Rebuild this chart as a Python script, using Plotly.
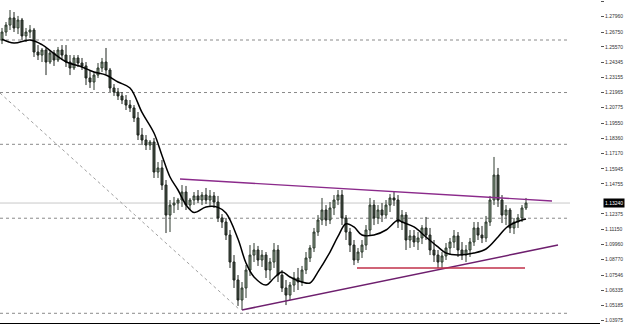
import plotly.graph_objects as go

bars = list(range(132))
opens = [1.2612,1.2675,1.2730,1.2786,1.2707,1.2770,1.2644,1.2675,1.2691,1.2517,
         1.2493,1.2533,1.2438,1.2509,1.2454,1.2533,1.2493,1.2438,1.2391,1.2470,
         1.2430,1.2407,1.2312,1.2280,1.2335,1.2391,1.2438,1.2375,1.2233,1.2201,
         1.2170,1.2138,1.2098,1.2075,1.1996,1.1861,1.1822,1.1782,1.1806,1.1569,
         1.1601,1.1466,1.1229,1.1308,1.1324,1.1348,1.1411,1.1308,1.1348,1.1380,
         1.1348,1.1387,1.1348,1.1380,1.1332,1.1206,1.1174,1.1071,1.0858,1.0716,
         1.0558,1.0653,1.0795,1.0913,1.0953,1.0874,1.0913,1.0795,1.0858,1.0953,
         1.0755,1.0653,1.0597,1.0676,1.0732,1.0700,1.0795,1.0890,1.0969,1.1095,
         1.1190,1.1269,1.1190,1.1285,1.1348,1.1387,1.1206,1.1095,1.0992,1.0874,
         1.0937,1.0992,1.1111,1.1308,1.1206,1.1269,1.1229,1.1308,1.1364,1.1348,
         1.1174,1.1229,1.1032,1.1064,1.1016,1.1048,1.1127,1.1071,1.0953,1.0913,
         1.0858,1.0906,1.0969,1.1016,1.1064,1.0953,1.0913,1.0953,1.1016,1.1127,
         1.1071,1.1048,1.1174,1.1348,1.1545,1.1348,1.1229,1.1269,1.1127,1.1174,
         1.1206,1.1285]
highs = [1.2707,1.2754,1.2849,1.2833,1.2802,1.2786,1.2707,1.2730,1.2707,1.2572,
         1.2549,1.2549,1.2533,1.2533,1.2557,1.2572,1.2572,1.2493,1.2493,1.2493,
         1.2470,1.2438,1.2375,1.2359,1.2430,1.2470,1.2549,1.2391,1.2264,1.2233,
         1.2201,1.2177,1.2138,1.2098,1.2043,1.1917,1.1861,1.1822,1.1838,1.1648,
         1.1664,1.1506,1.1348,1.1372,1.1364,1.1466,1.1459,1.1364,1.1411,1.1427,
         1.1411,1.1443,1.1427,1.1411,1.1380,1.1237,1.1206,1.1111,1.0913,1.0755,
         1.0700,1.0834,1.0992,1.1008,1.0985,1.0953,1.0937,1.0890,1.1008,1.0992,
         1.0795,1.0716,1.0700,1.0779,1.0811,1.0827,1.0937,1.0992,1.1127,1.1229,
         1.1364,1.1308,1.1332,1.1387,1.1427,1.1427,1.1229,1.1127,1.1032,1.0969,
         1.1032,1.1150,1.1364,1.1348,1.1308,1.1324,1.1348,1.1395,1.1411,1.1387,
         1.1269,1.1253,1.1111,1.1111,1.1095,1.1150,1.1214,1.1127,1.1032,1.0953,
         1.0937,1.1008,1.1048,1.1111,1.1095,1.1016,1.0992,1.1048,1.1174,1.1174,
         1.1143,1.1222,1.1380,1.1688,1.1601,1.1387,1.1308,1.1285,1.1206,1.1237,
         1.1308,1.1364]
lows = [1.2580,1.2644,1.2691,1.2675,1.2659,1.2612,1.2596,1.2628,1.2478,1.2454,
        1.2438,1.2335,1.2422,1.2407,1.2438,1.2454,1.2399,1.2335,1.2375,1.2399,
        1.2375,1.2256,1.2233,1.2217,1.2312,1.2359,1.2343,1.2201,1.2170,1.2138,
        1.2106,1.2059,1.2043,1.1964,1.1822,1.1782,1.1743,1.1743,1.1522,1.1522,
        1.1427,1.1087,1.1095,1.1245,1.1269,1.1293,1.1269,1.1269,1.1308,1.1324,
        1.1308,1.1316,1.1301,1.1285,1.1174,1.1127,1.1032,1.0811,1.0653,1.0511,
        1.0479,1.0574,1.0748,1.0858,1.0827,1.0819,1.0732,1.0716,1.0811,1.0700,
        1.0621,1.0518,1.0558,1.0621,1.0637,1.0669,1.0763,1.0858,1.0937,1.1064,
        1.1150,1.1143,1.1158,1.1229,1.1308,1.1150,1.1032,1.0937,1.0834,1.0850,
        1.0890,1.0953,1.1071,1.1150,1.1158,1.1174,1.1206,1.1253,1.1301,1.1127,
        1.1111,1.0953,1.0969,1.0977,1.0953,1.1000,1.1032,1.0913,1.0858,1.0811,
        1.0811,1.0874,1.0913,1.0969,1.0898,1.0874,1.0858,1.0898,1.0985,1.1032,
        1.1008,1.1016,1.1143,1.1308,1.1293,1.1166,1.1150,1.1087,1.1079,1.1127,
        1.1174,1.1269]
closes = [1.2675,1.2730,1.2786,1.2707,1.2770,1.2644,1.2675,1.2691,1.2517,1.2493,
          1.2533,1.2438,1.2509,1.2454,1.2533,1.2493,1.2438,1.2391,1.2470,1.2430,
          1.2407,1.2312,1.2280,1.2335,1.2391,1.2438,1.2375,1.2233,1.2201,1.2170,
          1.2138,1.2098,1.2075,1.1996,1.1861,1.1822,1.1782,1.1806,1.1569,1.1601,
          1.1466,1.1229,1.1308,1.1324,1.1348,1.1411,1.1308,1.1348,1.1380,1.1348,
          1.1387,1.1348,1.1380,1.1332,1.1206,1.1174,1.1071,1.0858,1.0716,1.0558,
          1.0653,1.0795,1.0913,1.0953,1.0874,1.0913,1.0795,1.0858,1.0953,1.0755,
          1.0653,1.0597,1.0676,1.0732,1.0700,1.0795,1.0890,1.0969,1.1095,1.1190,
          1.1269,1.1190,1.1285,1.1348,1.1387,1.1206,1.1095,1.0992,1.0874,1.0937,
          1.0992,1.1111,1.1308,1.1206,1.1269,1.1229,1.1308,1.1364,1.1348,1.1174,
          1.1229,1.1032,1.1064,1.1016,1.1048,1.1127,1.1071,1.0953,1.0913,1.0858,
          1.0906,1.0969,1.1016,1.1064,1.0953,1.0913,1.0953,1.1016,1.1127,1.1071,
          1.1048,1.1174,1.1348,1.1545,1.1348,1.1229,1.1269,1.1127,1.1174,1.1206,
          1.1285,1.1324]

ma_bars = [0,3,7,10,13,16,20,23,26,29,32,35,38,40,42,44,46,48,51,54,56,59,61,63,66,68,
           70,72,75,77,79,82,84,86,88,90,93,96,99,100,103,106,109,111,114,118,121,124,
           126,128,130,131]
ma_vals = [1.2618,1.2588,1.2612,1.2575,1.2505,1.2440,1.2399,1.2359,1.2335,1.2280,1.2233,
           1.2040,1.1877,1.1700,1.1530,1.1427,1.1310,1.1250,1.1293,1.1290,1.1245,1.1040,
           1.0850,1.0740,1.0676,1.0732,1.0779,1.0740,1.0700,1.0692,1.0780,1.0937,1.1060,
           1.1160,1.1135,1.1071,1.1071,1.1111,1.1190,1.1174,1.1135,1.1056,1.0977,1.0929,
           1.0913,1.0929,1.0961,1.1056,1.1127,1.1166,1.1190,1.1198]

price_ticks = [1.29175,1.27960,1.26750,1.25570,1.24345,1.23155,1.21965,1.20775,1.19550,
               1.18360,1.17170,1.15945,1.14755,1.12375,1.11150,1.09960,1.08770,1.07546,
               1.06335,1.05185,1.03975]
price_labels = ["1.29175","1.27960","1.26750","1.25570","1.24345","1.23155","1.21965",
                "1.20775","1.19550","1.18360","1.17170","1.15945","1.14755","1.12375",
                "1.11150","1.09960","1.08770","1.07546","1.06335","1.05185","1.03975"]

dotted_levels = [1.2612, 1.2197, 1.1788, 1.1204, 1.0453]
bid_price = 1.1324
bid_label = "1.13240"
level_span = [-0.5, 142]

upper_trend_x = [44.5, 137.5]
upper_trend_y = [1.1514, 1.1340]
lower_trend_x = [60, 139]
lower_trend_y = [1.0479, 1.0992]
red_line_x = [88.75, 130.75]
red_line_y = [1.0811, 1.0811]
diag_x = [-0.5, 59.5]
diag_y = [1.2193, 1.0479]

fig = go.Figure()

for lv in dotted_levels:
    fig.add_shape(type="line", xref="x", yref="y", x0=level_span[0], x1=level_span[1],
                  y0=lv, y1=lv, line=dict(color="#8a8a8a", width=1, dash="dot"), layer="below")
fig.add_shape(type="line", xref="x", yref="y", x0=level_span[0], x1=level_span[1],
              y0=bid_price, y1=bid_price, line=dict(color="#c8c8c8", width=1), layer="below")
fig.add_shape(type="line", xref="x", yref="y", x0=diag_x[0], x1=diag_x[1],
              y0=diag_y[0], y1=diag_y[1], line=dict(color="#a0a0a0", width=1, dash="dot"), layer="below")

fig.add_trace(go.Candlestick(
    x=bars, open=opens, high=highs, low=lows, close=closes,
    increasing=dict(line=dict(color="#2e3a2e", width=1), fillcolor="#8a9e8a"),
    decreasing=dict(line=dict(color="#1e241e", width=1), fillcolor="#465046"),
    whiskerwidth=0, hoverinfo="skip"))

fig.add_trace(go.Scatter(x=ma_bars, y=ma_vals, mode="lines",
                         line=dict(color="black", width=1.5, shape="spline", smoothing=1.0),
                         hoverinfo="skip"))

fig.add_trace(go.Scatter(x=upper_trend_x, y=upper_trend_y, mode="lines",
                         line=dict(color="#8b2a8b", width=1.3), hoverinfo="skip"))
fig.add_trace(go.Scatter(x=lower_trend_x, y=lower_trend_y, mode="lines",
                         line=dict(color="#6e1f6e", width=1.5), hoverinfo="skip"))
fig.add_trace(go.Scatter(x=red_line_x, y=red_line_y, mode="lines",
                         line=dict(color="#c0304a", width=1.5), hoverinfo="skip"))

fig.add_annotation(xref="paper", yref="y", x=1.0, y=bid_price, xanchor="left", yanchor="middle",
                   text=bid_label, showarrow=False, bgcolor="black",
                   font=dict(color="white", size=5, family="Liberation Sans"),
                   borderpad=1, xshift=3)

fig.update_layout(
    width=625, height=324,
    margin=dict(l=0, r=25, t=0, b=1),
    plot_bgcolor="white", paper_bgcolor="white",
    showlegend=False,
    xaxis=dict(range=[-0.5, 149.5], showgrid=False, zeroline=False, showticklabels=False,
               showline=True, linecolor="black", linewidth=1, ticks="",
               rangeslider=dict(visible=False), fixedrange=True),
    yaxis=dict(range=[1.03763, 1.2928], side="right", showgrid=False, zeroline=False,
               tickvals=price_ticks, ticktext=price_labels, ticks="outside", ticklen=3,
               tickcolor="#555555", tickfont=dict(size=5, color="#333333", family="Liberation Sans"),
               showline=False, automargin=False, fixedrange=True),
)

fig.write_html("out.html")
